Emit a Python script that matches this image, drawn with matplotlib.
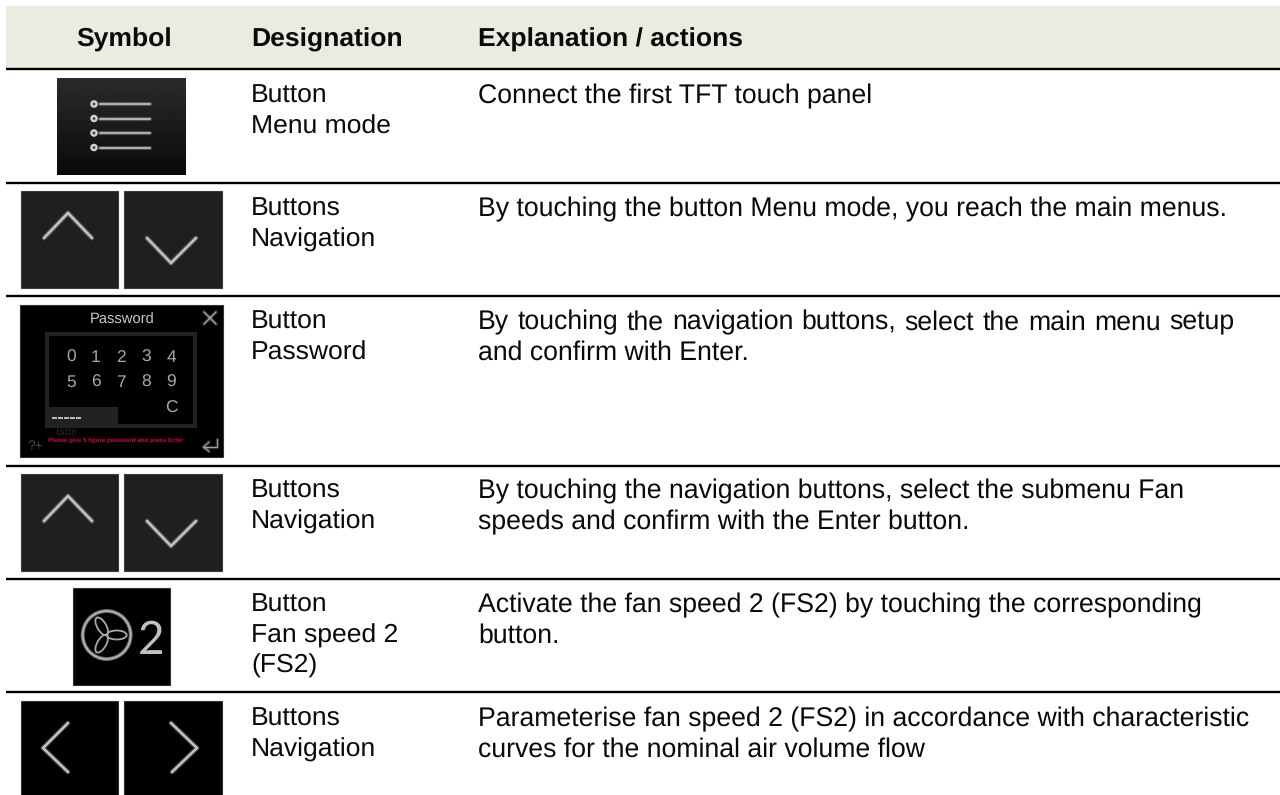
import numpy as np
import matplotlib
matplotlib.use("Agg")
import matplotlib.pyplot as plt
from matplotlib.patches import Rectangle, Circle, Ellipse

plt.rcParams['font.family'] = ['Liberation Sans', 'DejaVu Sans']
plt.rcParams['text.hinting'] = 'no_hinting'

headers = ["Symbol", "Designation", "Explanation / actions"]
designations = [
    ["Button", "Menu mode"],
    ["Buttons", "Navigation"],
    ["Button", "Password"],
    ["Buttons", "Navigation"],
    ["Button", "Fan speed 2", "(FS2)"],
    ["Buttons", "Navigation"],
]
explanations = [
    ["Connect the first TFT touch panel"],
    ["By touching the button Menu mode, you reach the main menus."],
    ["By touching the navigation buttons, select the main menu setup", "and confirm with Enter."],
    ["By touching the navigation buttons, select the submenu Fan", "speeds and confirm with the Enter button."],
    ["Activate the fan speed 2 (FS2) by touching the corresponding", "button."],
    ["Parameterise fan speed 2 (FS2) in accordance with characteristic", "curves for the nominal air volume flow"],
]
keypad_rows = [["0", "1", "2", "3", "4"], ["5", "6", "7", "8", "9"], ["", "", "", "", "C"]]
password_hint = "Please give 5 figure password and press Enter"

row_lines = [69, 183, 296, 466, 579, 692]
first_baselines = [103.6, 216.6, 329.6, 498.6, 612.6, 726.6]
line_gap = 30.5
body_size = 19.2
head_size = 19.05

fig = plt.figure(figsize=(12.8, 7.95), dpi=100)
ax = fig.add_axes([0, 0, 1, 1])
ax.set_xlim(0, 1280)
ax.set_ylim(795, 0)
ax.axis('off')


def box(x0, y0, x1, y1, color, edge='none', z=2):
    ax.add_patch(Rectangle((x0, y0), x1 - x0, y1 - y0, fc=color, ec=edge, lw=0.8, zorder=z))


def stroke(xs, ys, color='#c4c4c4', lw=1.8, z=4):
    # soft halo underneath so it looks like the blurry screenshot icons
    ax.plot(xs, ys, color=color, lw=lw + 1.8, alpha=0.3, solid_capstyle='round', solid_joinstyle='round', zorder=z)
    ax.plot(xs, ys, color=color, lw=lw, solid_capstyle='round', solid_joinstyle='miter', zorder=z + 0.1)


def justified(line, x0, x1, y):
    words = line.split(" ")
    items = [ax.text(x0, y, w, fontsize=body_size, va='baseline', color='#0a0a0a') for w in words]
    rend = fig.canvas.get_renderer()
    widths = [t.get_window_extent(rend).width for t in items]
    gap = (x1 - x0 - sum(widths)) / (len(words) - 1)
    x = x0
    for t, w in zip(items, widths):
        t.set_x(x)
        x += w + gap


# header
box(6, 6, 1280, 68, '#ecebdf', z=1)
ax.text(124, 46.6, headers[0], fontsize=head_size, fontweight='bold', ha='center', va='baseline', color='#0a0a0a')
ax.text(251, 46.6, headers[1], fontsize=head_size, fontweight='bold', va='baseline', color='#0a0a0a')
ax.text(478, 46.6, headers[2], fontsize=head_size, fontweight='bold', va='baseline', color='#0a0a0a')

for y in row_lines:
    ax.plot([6, 1280], [y, y], color='black', lw=1.7, solid_capstyle='butt', zorder=3)

# table text
for i in range(6):
    for j, line in enumerate(designations[i]):
        ax.text(251, first_baselines[i] - 0.8 + j * line_gap, line, fontsize=19.05, va='baseline', color='#0a0a0a')
    for j, line in enumerate(explanations[i]):
        y = first_baselines[i] + j * line_gap
        if i == 2 and j == 0:
            justified(line, 478, 1234, y)
        else:
            ax.text(478, y, line, fontsize=body_size, va='baseline', color='#0a0a0a')

# menu mode icon
shade = np.linspace(0.17, 0.04, 64).reshape(-1, 1)
ax.imshow(shade, extent=(57, 186, 175, 78), cmap='gray', vmin=0, vmax=1, aspect='auto', zorder=2)
ax.set_xlim(0, 1280)
ax.set_ylim(795, 0)
for y in [104, 118.5, 133, 147.5]:
    stroke([100, 150], [y, y], lw=1.2)
    ax.add_patch(Circle((94, y), 2.6, fc='#444444', ec='#d0d0d0', lw=1.7, zorder=5))

# up / down buttons, twice
for top in [191, 474]:
    box(21, top, 118, top + 97, '#1f1f1f', '#3c3c3c')
    box(124, top, 222, top + 97, '#1f1f1f', '#3c3c3c')
    stroke([44, 68, 92], [top + 47, top + 22, top + 47])
    stroke([147, 171, 196], [top + 47, top + 72, top + 47])

# password screen
box(20, 305, 223, 457, 'black', '#333333')
box(45, 332, 197, 428, '#222222', z=3)
box(49, 336, 193, 424, 'black', z=3.1)
box(45, 407, 118, 428, '#222222', z=3.2)
ax.text(122, 324, "Password", fontsize=10.6, color='#c8c8c8', ha='center', va='baseline', zorder=5)
stroke([204, 216], [312, 324], color='#b0b0b0', lw=0.8)
stroke([204, 216], [324, 312], color='#b0b0b0', lw=0.8)
for r, keys in enumerate(keypad_rows):
    for c, k in enumerate(keys):
        ax.text(71 + c * 25, 362 + r * 25.2, k, fontsize=12.5, color='#a8a8a8', ha='center', va='baseline', zorder=5)
for k in range(5):
    ax.plot([52 + k * 6, 56.5 + k * 6], [417.5, 417.5], color='#d8d8d8', lw=1.2, solid_capstyle='butt', zorder=5)
ax.text(55, 436, "Bitte", fontsize=8, color='#242424', va='baseline', zorder=4)
ax.text(48, 441.5, password_hint, fontsize=4.4, fontweight='bold', color='#d8003f', va='baseline', zorder=5)
ax.text(27, 450, "?+", fontsize=10, color='#444444', va='baseline', zorder=5)
stroke([216.5, 216.5, 203.5], [439, 447, 447], color='#a8a8a8', lw=0.7)
stroke([209, 203.5, 209], [442, 447, 451.5], color='#a8a8a8', lw=0.7)

# fan speed button
box(73, 588, 170, 685, 'black', '#333333')
ax.add_patch(Circle((106.7, 635), 24, fc='none', ec='#6e6e6e', lw=2.8, zorder=4))
ax.add_patch(Circle((106.7, 635), 24, fc='none', ec='#b4b4b4', lw=1.2, zorder=4.1))
for ang in [0, 120, 240]:
    a = np.deg2rad(ang)
    ax.add_patch(Ellipse((106.7 + 10 * np.cos(a), 635 + 10 * np.sin(a)), 20, 9, angle=ang,
                         fc='none', ec='#a8a8a8', lw=1.3, zorder=4))
ax.text(151, 654, "2", fontsize=33, color='#c0c0c0', ha='center', va='baseline', family='Lato', zorder=5)

# left / right buttons
box(21, 701, 118, 800, 'black', '#333333')
box(124, 701, 222, 800, 'black', '#333333')
stroke([68, 43, 68], [723, 748, 772])
stroke([171, 197, 172], [723, 748, 772])

fig.savefig('out.png', dpi=100)
